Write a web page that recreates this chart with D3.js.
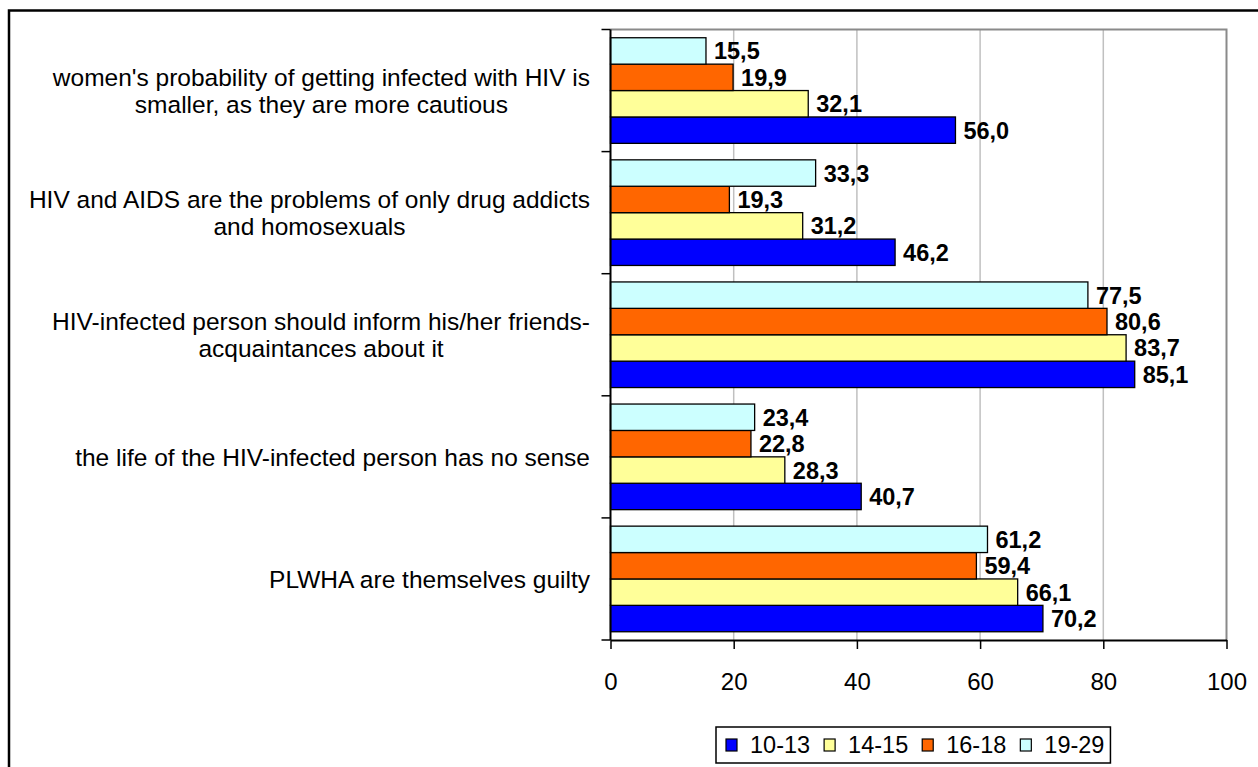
<!DOCTYPE html>
<html>
<head>
<meta charset="utf-8">
<script src="https://cdn.jsdelivr.net/npm/d3@7"></script>
<style>
  body { margin: 0; background: #fff; }
  svg { display: block; font-family: Arial, "Liberation Sans", sans-serif; }
</style>
</head>
<body>
<div id="chart"></div>
<script>
// categories, top to bottom, with the line breaks used in the picture
const categories = ["women", "aids", "inform", "life", "plwha"];
const categoryLines = [
    ["women's probability of getting infected with HIV is", "smaller, as they are more cautious"],
    ["HIV and AIDS are the problems of only drug addicts", "and homosexuals"],
    ["HIV-infected person should inform his/her friends-", "acquaintances about it"],
    ["the life of the HIV-infected person has no sense"],
    ["PLWHA are themselves guilty"]
];

const seriesNames = ["10-13", "14-15", "16-18", "19-29"];
const values1013 = [56.0, 46.2, 85.1, 40.7, 70.2];
const values1415 = [32.1, 31.2, 83.7, 28.3, 66.1];
const values1618 = [19.9, 19.3, 80.6, 22.8, 59.4];
const values1929 = [15.5, 33.3, 77.5, 23.4, 61.2];
const xTicks = [0, 20, 40, 60, 80, 100];
const seriesColors = ["#0000ff", "#ffff99", "#ff6600", "#ccffff"];

const W = 1258, H = 767;
const plot = { left: 610.5, right: 1226.5, top: 29.5, bottom: 640 };

const seriesValues = [values1013, values1415, values1618, values1929];
const rows = [];
categories.forEach((c, i) => {
    seriesNames.forEach((s, j) => {
        rows.push({ cat: c, series: s, value: seriesValues[j][i], color: seriesColors[j] });
    });
});

const svg = d3.select("#chart").append("svg")
    .attr("width", W)
    .attr("height", H);

svg.append("rect").attr("width", W).attr("height", H).attr("fill", "#fff");

// outer chart frame (runs off the right and bottom of the picture)
svg.append("rect")
    .attr("x", 9).attr("y", 10.5)
    .attr("width", W + 20).attr("height", H + 20)
    .attr("fill", "none")
    .attr("stroke", "#000")
    .attr("stroke-width", 2.5);

const x = d3.scaleLinear().domain([0, 100]).range([plot.left, plot.right]);

const y0 = d3.scaleBand()
    .domain(categories)
    .range([plot.top, plot.bottom])
    .paddingInner(0.135)
    .paddingOuter(0.0675);

// band boundaries for the category ticks
const yCat = d3.scaleBand().domain(categories).range([plot.top, plot.bottom]).padding(0);

const y1 = d3.scaleBand()
    .domain(seriesNames.slice().reverse())
    .range([0, y0.bandwidth()]);

// gridlines
svg.append("g")
    .selectAll("line")
    .data(xTicks.filter(t => t > 0 && t < 100))
    .join("line")
    .attr("x1", d => x(d)).attr("x2", d => x(d))
    .attr("y1", plot.top).attr("y2", plot.bottom)
    .attr("stroke", "#c0c0c0")
    .attr("stroke-width", 1.5);

// grey plot border on top and right
svg.append("path")
    .attr("d", `M${plot.left},${plot.top}H${plot.right}V${plot.bottom}`)
    .attr("fill", "none")
    .attr("stroke", "#8a8a8a")
    .attr("stroke-width", 2);

// bars
svg.append("g")
    .selectAll("rect")
    .data(rows)
    .join("rect")
    .attr("x", x(0))
    .attr("y", d => y0(d.cat) + y1(d.series))
    .attr("width", d => x(d.value) - x(0))
    .attr("height", y1.bandwidth())
    .attr("fill", d => d.color)
    .attr("stroke", "#000")
    .attr("stroke-width", 1.3);

// value labels
const fmt = d3.format(".1f");
svg.append("g")
    .selectAll("text")
    .data(rows)
    .join("text")
    .attr("x", d => x(d.value) + 8)
    .attr("y", d => y0(d.cat) + y1(d.series) + y1.bandwidth() / 2)
    .attr("dy", "0.36em")
    .style("font-size", "23.5px")
    .style("font-weight", "bold")
    .style("fill", "#000")
    .text(d => fmt(d.value).replace(".", ","));

// x axis
const xAxis = svg.append("g")
    .attr("transform", `translate(0,${plot.bottom})`)
    .call(d3.axisBottom(x).tickValues(xTicks).tickSize(9).tickSizeOuter(0).tickPadding(24));
xAxis.select(".domain").attr("stroke", "#000").attr("stroke-width", 2);
xAxis.selectAll(".tick line").attr("stroke", "#000").attr("stroke-width", 1.5);
xAxis.selectAll(".tick text")
    .style("font-size", "24px")
    .style("font-family", "Arial, 'Liberation Sans', sans-serif")
    .attr("fill", "#000");

// y axis line and category ticks
svg.append("line")
    .attr("x1", plot.left).attr("x2", plot.left)
    .attr("y1", plot.top).attr("y2", plot.bottom)
    .attr("stroke", "#000").attr("stroke-width", 2);

const catEdges = categories.map(c => yCat(c)).concat([yCat(categories[categories.length - 1]) + yCat.bandwidth()]);
svg.append("g")
    .selectAll("line")
    .data(catEdges)
    .join("line")
    .attr("x1", plot.left - 9).attr("x2", plot.left)
    .attr("y1", d => d).attr("y2", d => d)
    .attr("stroke", "#000").attr("stroke-width", 1.5);

// category labels: block right-aligned to the axis, lines centred in the block
const labelRight = 590;
const lineH = 27;
categories.forEach((c, i) => {
    const lines = categoryLines[i];
    const cy = y0(c) + y0.bandwidth() / 2;
    const t = svg.append("text")
        .style("font-size", "24.5px")
        .attr("text-anchor", "middle")
        .attr("fill", "#000");
    const spans = lines.map((ln, k) => t.append("tspan")
        .attr("y", cy + (k - (lines.length - 1) / 2) * lineH)
        .attr("dy", "0.36em")
        .text(ln));
    const maxW = d3.max(spans, s => s.node().getComputedTextLength());
    spans.forEach(s => s.attr("x", labelRight - maxW / 2));
});

// legend
const legend = svg.append("g").attr("transform", "translate(716,745)");
const legendBox = legend.append("rect")
    .attr("y", -18).attr("height", 36)
    .attr("fill", "#fff")
    .attr("stroke", "#000")
    .attr("stroke-width", 1.5);

let lx = 10;
seriesNames.forEach((s, j) => {
    const item = legend.append("g").attr("transform", `translate(${lx},0)`);
    item.append("rect")
        .attr("x", 0).attr("y", -6)
        .attr("width", 11).attr("height", 12)
        .attr("fill", seriesColors[j])
        .attr("stroke", "#000")
        .attr("stroke-width", 1.2);
    const txt = item.append("text")
        .attr("x", 24)
        .attr("dy", "0.36em")
        .style("font-size", "23.5px")
        .text(s);
    lx += 24 + txt.node().getComputedTextLength() + 14;
});
legendBox.attr("width", lx - 8);
</script>
</body>
</html>
